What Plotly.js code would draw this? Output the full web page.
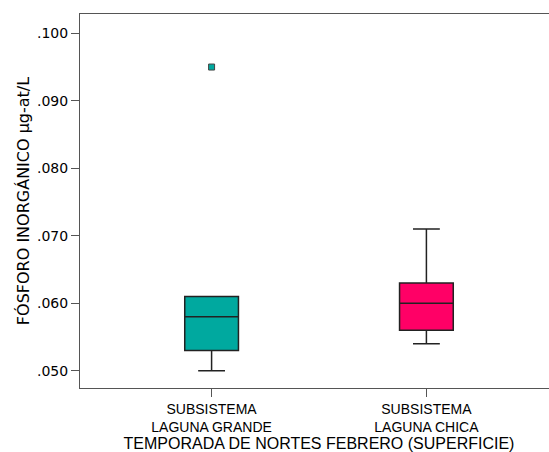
<!DOCTYPE html>
<html><head><meta charset="utf-8">
<script src="https://cdn.plot.ly/plotly-3.0.1.min.js"></script>
<style>html,body{margin:0;padding:0;overflow:hidden;background:#fff}#chart{width:560px;height:452px}</style>
</head><body><div id="chart"></div>
<script>
const categories = ["SUBSISTEMA<br>LAGUNA GRANDE", "SUBSISTEMA<br>LAGUNA CHICA"];
const lowerWhisker = [0.050, 0.054];
const q1Values = [0.053, 0.056];
const medianValues = [0.058, 0.060];
const q3Values = [0.061, 0.063];
const upperWhisker = [0.061, 0.071];
const outlierCategory = ["SUBSISTEMA<br>LAGUNA GRANDE"];
const outlierValues = [0.095];
const boxColors = ["#00A99F", "#FF0066"];
const yTickVals = [0.050, 0.060, 0.070, 0.080, 0.090, 0.100];
const yTickText = [".050", ".060", ".070", ".080", ".090", ".100"];

const traces = categories.map((c, i) => ({
  type: 'box',
  x: [c],
  q1: [q1Values[i]], median: [medianValues[i]], q3: [q3Values[i]],
  lowerfence: [lowerWhisker[i]], upperfence: [upperWhisker[i]],
  fillcolor: boxColors[i],
  line: {color: '#222', width: 1.5},
  width: 0.25,
  whiskerwidth: 0.5,
  boxpoints: false,
  hoverinfo: 'none',
  showlegend: false
}));
traces.push({
  type: 'scatter', mode: 'markers',
  x: outlierCategory, y: outlierValues,
  marker: {symbol: 'square', size: 6, color: boxColors[0], line: {color: '#444', width: 1}},
  showlegend: false, hoverinfo: 'none'
});

const layout = {
  width: 560, height: 452,
  margin: {l: 80, r: 2, t: 14, b: 64},
  paper_bgcolor: '#fff', plot_bgcolor: '#fff',
  font: {family: 'DejaVu Sans, Verdana, sans-serif', color: '#000', size: 13},
  xaxis: {
    type: 'category', categoryorder: 'array', categoryarray: categories,
    range: [-0.6126, 1.6126],
    showline: true, mirror: true, linecolor: '#555', linewidth: 1,
    ticks: 'outside', ticklen: 8, tickcolor: '#555',
    showgrid: false, zeroline: false,
    tickfont: {size: 14, family: 'Liberation Sans, Arial, sans-serif'},
    title: {text: 'TEMPORADA DE NORTES FEBRERO (SUPERFICIE)', font: {size: 16, family: 'Liberation Sans, Arial, sans-serif'}, standoff: 8}
  },
  yaxis: {
    range: [0.04744, 0.10286],
    tickvals: yTickVals, ticktext: yTickText,
    showline: true, mirror: true, linecolor: '#555', linewidth: 1,
    ticks: 'outside', ticklen: 8, tickcolor: '#555',
    showgrid: false, zeroline: false,
    tickfont: {size: 14},
    title: {text: 'FÓSFORO INORGÁNICO µg-at/L', font: {size: 16}, standoff: 3}
  }
};
Plotly.newPlot('chart', traces, layout, {displayModeBar: false, staticPlot: true});
</script></body></html>
